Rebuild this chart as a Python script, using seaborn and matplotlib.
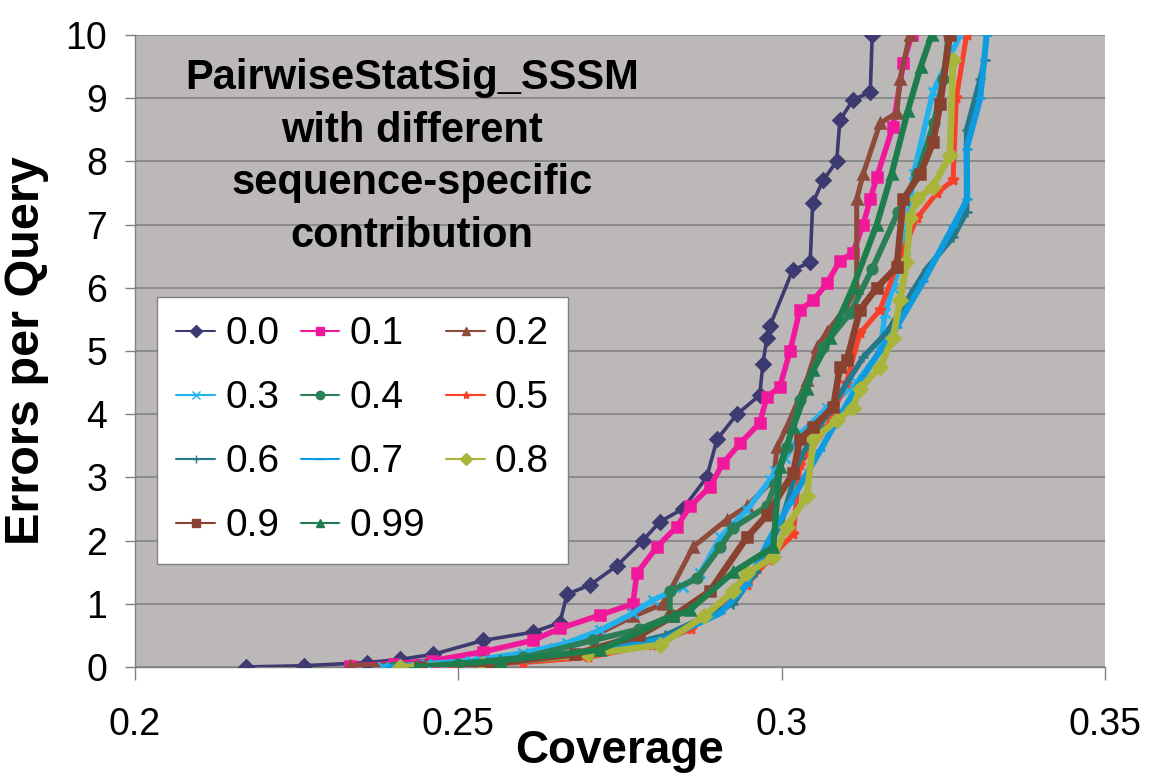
import matplotlib
matplotlib.use('Agg')
import matplotlib.pyplot as plt
from matplotlib.lines import Line2D
import seaborn as sns
import pandas as pd

# series labels (sequence-specific contribution)
labels = ['0.0', '0.1', '0.2', '0.3', '0.4', '0.5', '0.6', '0.7', '0.8', '0.9', '0.99']

# coverage / errors-per-query
cov_00 = [0.2172, 0.2261, 0.2359, 0.2410, 0.2461, 0.2538, 0.2615, 0.2657, 0.2668, 0.2704, 0.2745, 0.2785,
          0.2812, 0.2847, 0.2884, 0.2900, 0.2931, 0.2966, 0.2971, 0.2977, 0.2982, 0.3017, 0.3044, 0.3048,
          0.3064, 0.3085, 0.3090, 0.3110, 0.3137, 0.3140]
err_00 = [0.0, 0.02, 0.07, 0.12, 0.2, 0.42, 0.55, 0.7, 1.15, 1.3, 1.6, 2.0, 2.3, 2.5, 3.0, 3.6, 4.0, 4.3,
          4.8, 5.2, 5.4, 6.28, 6.4, 7.34, 7.7, 8.0, 8.65, 8.97, 9.1, 10.0]

cov_01 = [0.2332, 0.2400, 0.2460, 0.2538, 0.2615, 0.2657, 0.2719, 0.2770, 0.2776, 0.2807, 0.2838, 0.2858,
          0.2889, 0.2909, 0.2936, 0.2966, 0.2977, 0.2997, 0.3013, 0.3028, 0.3049, 0.3070, 0.3090, 0.3110,
          0.3126, 0.3137, 0.3147, 0.3172, 0.3188, 0.3201]
err_01 = [0.02, 0.05, 0.1, 0.24, 0.42, 0.61, 0.82, 1.0, 1.48, 1.9, 2.22, 2.54, 2.85, 3.22, 3.54, 3.86, 4.27,
          4.43, 5.0, 5.65, 5.8, 6.07, 6.43, 6.55, 7.0, 7.4, 7.75, 8.55, 9.55, 10.0]

cov_02 = [0.2332, 0.2450, 0.2538, 0.2642, 0.2719, 0.2770, 0.2817, 0.2863, 0.2915, 0.2946, 0.2987, 0.2993,
          0.3008, 0.3039, 0.3055, 0.3070, 0.3100, 0.3116, 0.3116, 0.3126, 0.3152, 0.3178, 0.3183, 0.3198]
err_02 = [0.02, 0.05, 0.1, 0.27, 0.54, 0.8, 1.0, 1.9, 2.33, 2.54, 2.96, 3.48, 3.8, 4.54, 5.07, 5.3, 5.7,
          6.0, 7.4, 7.8, 8.6, 8.77, 9.3, 10.0]

cov_03 = [0.2384, 0.2450, 0.2520, 0.2600, 0.2668, 0.2719, 0.2770, 0.2801, 0.2847, 0.2874, 0.2905, 0.2946,
          0.2982, 0.2990, 0.3005, 0.3030, 0.3070, 0.3116, 0.3152, 0.3160, 0.3172, 0.3190, 0.3204, 0.3234, 0.3276]
err_03 = [0.0, 0.05, 0.1, 0.22, 0.38, 0.58, 0.85, 1.06, 1.27, 1.48, 2.05, 2.48, 2.96, 3.1, 3.3, 3.7, 4.1,
          4.5, 5.0, 5.6, 6.0, 6.6, 7.8, 9.1, 10.0]

cov_04 = [0.2400, 0.2500, 0.2600, 0.2708, 0.2780, 0.2827, 0.2827, 0.2869, 0.2905, 0.2925, 0.2977, 0.2990,
          0.3008, 0.3028, 0.3064, 0.3106, 0.3140, 0.3180, 0.3210, 0.3235, 0.3250, 0.3258]
err_04 = [0.0, 0.05, 0.15, 0.42, 0.6, 0.8, 1.2, 1.4, 1.9, 2.2, 2.54, 2.9, 3.48, 4.22, 5.07, 5.6, 6.3, 7.2,
          7.8, 8.6, 9.3, 10.0]

cov_05 = [0.2492, 0.2600, 0.2700, 0.2800, 0.2860, 0.2905, 0.2946, 0.2980, 0.3018, 0.3028, 0.3070, 0.3100,
          0.3121, 0.3152, 0.3180, 0.3209, 0.3240, 0.3265, 0.3270, 0.3286]
err_05 = [0.02, 0.07, 0.15, 0.35, 0.6, 0.95, 1.3, 1.7, 2.1, 3.2, 3.8, 4.5, 5.28, 5.65, 6.4, 7.1, 7.5, 7.7,
          9.0, 10.0]

cov_06 = [0.2420, 0.2550, 0.2700, 0.2820, 0.2925, 0.2960, 0.3000, 0.3028, 0.3070, 0.3126, 0.3163, 0.3204,
          0.3224, 0.3265, 0.3286, 0.3286, 0.3307, 0.3314]
err_06 = [0.0, 0.05, 0.2, 0.5, 1.0, 1.5, 2.3, 3.3, 4.0, 4.9, 5.3, 5.97, 6.3, 6.8, 7.2, 8.5, 9.3, 9.6]

cov_07 = [0.2395, 0.2550, 0.2700, 0.2820, 0.2905, 0.2946, 0.2980, 0.3013, 0.3060, 0.3080, 0.3126, 0.3152,
          0.3178, 0.3219, 0.3265, 0.3287, 0.3286, 0.3307, 0.3317]
err_07 = [0.0, 0.05, 0.2, 0.45, 0.85, 1.3, 2.0, 2.6, 3.43, 3.8, 4.6, 5.0, 5.38, 6.1, 6.97, 7.4, 8.2, 9.0, 10.0]

cov_08 = [0.2410, 0.2538, 0.2700, 0.2812, 0.2880, 0.2925, 0.2946, 0.2987, 0.3008, 0.3039, 0.3049, 0.3085,
          0.3110, 0.3121, 0.3152, 0.3172, 0.3183, 0.3193, 0.3198, 0.3209, 0.3234, 0.3260, 0.3265]
err_08 = [0.0, 0.05, 0.2, 0.35, 0.8, 1.2, 1.48, 1.74, 2.22, 2.7, 3.6, 3.9, 4.1, 4.4, 4.75, 5.2, 5.8, 6.4,
          7.1, 7.4, 7.6, 8.1, 9.6]

cov_09 = [0.2440, 0.2550, 0.2680, 0.2780, 0.2832, 0.2889, 0.2946, 0.2977, 0.3018, 0.3028, 0.3049, 0.3080,
          0.3090, 0.3101, 0.3121, 0.3147, 0.3178, 0.3188, 0.3214, 0.3234, 0.3245, 0.3260]
err_09 = [0.0, 0.05, 0.2, 0.5, 0.8, 1.2, 2.05, 2.4, 3.07, 3.6, 3.8, 4.12, 4.75, 4.86, 5.65, 6.0, 6.33, 7.4,
          7.8, 8.3, 8.9, 10.0]

cov_099 = [0.2436, 0.2564, 0.2719, 0.2832, 0.2858, 0.2925, 0.2987, 0.2997, 0.3018, 0.3039, 0.3049, 0.3075,
           0.3110, 0.3147, 0.3170, 0.3195, 0.3215, 0.3232]
err_099 = [0.0, 0.1, 0.27, 0.8, 0.9, 1.5, 1.9, 3.17, 3.8, 4.4, 4.7, 5.2, 6.0, 7.0, 7.8, 8.8, 9.5, 10.0]

coverage = [cov_00, cov_01, cov_02, cov_03, cov_04, cov_05, cov_06, cov_07, cov_08, cov_09, cov_099]
errors = [err_00, err_01, err_02, err_03, err_04, err_05, err_06, err_07, err_08, err_09, err_099]

colors = ['#3c3a70', '#f0199b', '#8e4a3a', '#22b2ee', '#2a7f56', '#f8402a',
          '#25788a', '#0e9ce0', '#a8b43a', '#8a4230', '#1e7d4c']
markers = ['D', 's', '^', 'x', 'o', '*', '+', '_', 'D', 's', '^']
widths = [2.6, 4.0, 3.6, 4.0, 4.2, 3.6, 4.0, 4.4, 4.8, 4.8, 4.4]

x_ticks = [0.2, 0.25, 0.3, 0.35]
x_tick_labels = ['0.2', '0.25', '0.3', '0.35']
y_ticks = list(range(0, 11))

sns.set_theme(style='white')
plt.rcParams['font.family'] = ['Liberation Sans', 'DejaVu Sans']
plt.rcParams['text.color'] = 'black'
plt.rcParams['axes.labelcolor'] = 'black'
plt.rcParams['xtick.color'] = 'black'
plt.rcParams['ytick.color'] = 'black'

fig = plt.figure(figsize=(11.56, 7.77), dpi=100)
ax = fig.add_axes([0.1168, 0.1416, 0.8391, 0.8134])
ax.set_facecolor('#bdb8b8')

handles = []
for i in range(len(labels)):
    df = pd.DataFrame({'Coverage': coverage[i], 'Errors': errors[i]})
    sns.lineplot(data=df, x='Coverage', y='Errors', ax=ax, color=colors[i], marker=markers[i],
                 markersize=7, markeredgewidth=1.8, markeredgecolor=colors[i], linewidth=widths[i],
                 sort=False, estimator=None, zorder=3 + i)
    handles.append(Line2D([0], [0], color=colors[i], marker=markers[i], markersize=6,
                          markeredgecolor=colors[i], lw=1.5))

ax.set_xlim(0.2, 0.35)
ax.set_ylim(0, 10)
ax.set_xticks(x_ticks)
ax.set_xticklabels(x_tick_labels)
ax.set_yticks(y_ticks)
ax.yaxis.grid(True, color='#7f7f7f', linewidth=1.1)
ax.set_axisbelow(True)
for s in ['top', 'right']:
    ax.spines[s].set_visible(False)
for s in ['left', 'bottom']:
    ax.spines[s].set_color('#808080')
    ax.spines[s].set_linewidth(1.0)
ax.tick_params(axis='x', direction='out', length=9, width=1, color='#808080', pad=20,
               labelsize=27, labelcolor='black')
ax.tick_params(axis='y', direction='out', length=7, width=1, color='#808080', pad=13,
               labelsize=27, labelcolor='black')
ax.tick_params(bottom=True, left=True)

ax.set_xlabel('Coverage', fontsize=33, fontweight='bold', labelpad=-10)
ax.set_ylabel('Errors per Query', fontsize=35, fontweight='bold', labelpad=12)

ax.text(0.2856, 0.807, 'PairwiseStatSig_SSSM\nwith different\nsequence-specific\ncontribution',
        transform=ax.transAxes, ha='center', va='center', fontsize=30, fontweight='bold',
        linespacing=1.4, zorder=20, color='black')

# legend laid out row by row like the original (matplotlib fills columns first)
order = [0, 3, 6, 9, 1, 4, 7, 10, 2, 5, 8]
leg = ax.legend([handles[k] for k in order], [labels[k] for k in order], ncol=3,
                loc='upper left', bbox_to_anchor=(0.0227, 0.5854), borderaxespad=0,
                fontsize=28, frameon=True, fancybox=False, framealpha=1, facecolor='white',
                edgecolor='#808080', handlelength=1.0, handletextpad=0.25, columnspacing=0.55,
                labelspacing=0.72, borderpad=0.5)
leg.get_frame().set_linewidth(1.0)
leg.set_zorder(30)
for t in leg.get_texts():
    t.set_color('black')

fig.savefig('out.png', dpi=100)
